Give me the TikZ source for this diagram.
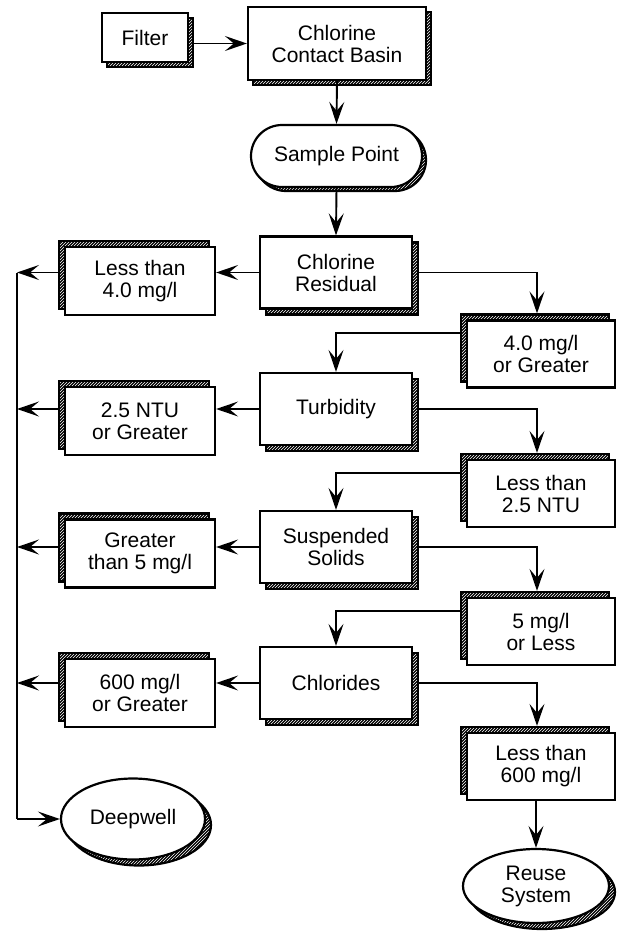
\documentclass[tikz,border=0pt]{standalone}
\usepackage{fontspec}
\setmainfont{Liberation Sans}
\usetikzlibrary{shadows,patterns,arrows.meta,shapes.geometric}
\begin{document}
\begin{tikzpicture}[x=1pt,y=-1pt,
  every node/.style={font=\fontsize{21}{22}\selectfont, align=center, inner sep=0pt},
  shBR/.style={general shadow={shadow xshift=#1, shadow yshift=-#1, fill=black},
               general shadow={shadow xshift=#1, shadow yshift=-#1, pattern=north east lines, pattern color=white, draw=black, line width=2.2pt}},
  shTL/.style={general shadow={shadow xshift=-#1, shadow yshift=#1, fill=black},
               general shadow={shadow xshift=-#1, shadow yshift=#1, pattern=north east lines, pattern color=white, draw=black, line width=2.2pt}},
  basebox/.style={draw, line width=2.2pt, fill=white},
  cbox/.style={basebox, minimum width=152pt, minimum height=72pt, shBR=6pt},
  lbox/.style={basebox, minimum width=150pt, minimum height=68pt, shTL=6pt},
  rbox/.style={basebox, minimum width=148pt, minimum height=67pt, shTL=6pt},
  oval/.style={basebox, ellipse, shBR=6pt},
  conn/.style={line width=1.9pt},
  arr/.style={conn, -{Stealth[length=22pt,width=15pt,inset=9pt]}}
]
\useasboundingbox (0,0) rectangle (617,932);

% top chain
\node[basebox, minimum width=86pt, minimum height=49pt, shBR=5pt] (filter) at (145,37.5) {Filter};
\node[basebox, minimum width=178pt, minimum height=73pt, shBR=5pt] (basin) at (337,43.5) {Chlorine\\Contact Basin};
\node[basebox, rounded corners=31pt, minimum width=171pt, minimum height=62pt, shBR=4pt] (sample) at (336.5,156) {Sample Point};

% centre column
\node[cbox] (cr)   at (336,272.5) {Chlorine\\Residual};
\node[cbox] (turb) at (336,409) {Turbidity};
\node[cbox] (ss)   at (336,547) {Suspended\\Solids};
\node[cbox] (chl)  at (336,683) {Chlorides};

% left column
\node[lbox] (l1) at (140,281)   {Less than\\4.0 mg/l};
\node[lbox] (l2) at (140,421)   {2.5 NTU\\or Greater};
\node[lbox] (l3) at (140,553.5) {Greater\\than 5 mg/l};
\node[lbox] (l4) at (140,693)   {600 mg/l\\or Greater};

% right column
\node[rbox] (r1) at (541,354)   {4.0 mg/l\\or Greater};
\node[rbox] (r2) at (541,493.5) {Less than\\2.5 NTU};
\node[rbox] (r3) at (541,631.5) {5 mg/l\\or Less};
\node[rbox] (r4) at (541,766.5) {Less than\\600 mg/l};

% terminals
\node[oval, minimum width=144pt, minimum height=81pt] (deep) at (133,819) {Deepwell};
\node[oval, minimum width=146pt, minimum height=74pt] (reuse) at (536,886) {Reuse\\System};

\coordinate (ttop) at (17,272.5);
\coordinate (tbot) at (17,819);

% top connectors
\draw[arr] ([xshift=5pt]filter.east |- basin.west) -- (basin.west);
\draw[arr] (basin.south) -- (sample.north);
\draw[arr] (sample.south) -- (cr.north);

% centre to left
\draw[arr] (cr.west)   -- (cr.west -| l1.east);
\draw[arr] (turb.west) -- (turb.west -| l2.east);
\draw[arr] (ss.west)   -- (ss.west -| l3.east);
\draw[arr] (chl.west)  -- (chl.west -| l4.east);

% left to trunk
\draw[arr] ([xshift=-6pt]l1.west |- cr.west)   -- (ttop);
\draw[arr] ([xshift=-6pt]l2.west |- turb.west) -- (ttop |- turb.west);
\draw[arr] ([xshift=-6pt]l3.west |- ss.west)   -- (ttop |- ss.west);
\draw[arr] ([xshift=-6pt]l4.west |- chl.west)  -- (ttop |- chl.west);
\draw[conn] (ttop) -- (tbot);
\draw[arr] (tbot) -- (deep.west);

% centre to right
\draw[arr] ([xshift=6pt]cr.east)   -| ([shift={(-4pt,6pt)}]r1.north);
\draw[arr] ([xshift=6pt]turb.east) -| ([shift={(-4pt,6pt)}]r2.north);
\draw[arr] ([xshift=6pt]ss.east)   -| ([shift={(-4pt,6pt)}]r3.north);
\draw[arr] ([xshift=6pt]chl.east)  -| ([shift={(-4pt,6pt)}]r4.north);

% right back to next centre
\draw[arr] ([shift={(-6pt,-14pt)}]r1.north west) -| (turb.north);
\draw[arr] ([shift={(-6pt,-14pt)}]r2.north west) -| (ss.north);
\draw[arr] ([shift={(-6pt,-14pt)}]r3.north west) -| (chl.north);

\draw[arr] (r4.south -| reuse.north) -- (reuse.north);
\end{tikzpicture}
\end{document}
